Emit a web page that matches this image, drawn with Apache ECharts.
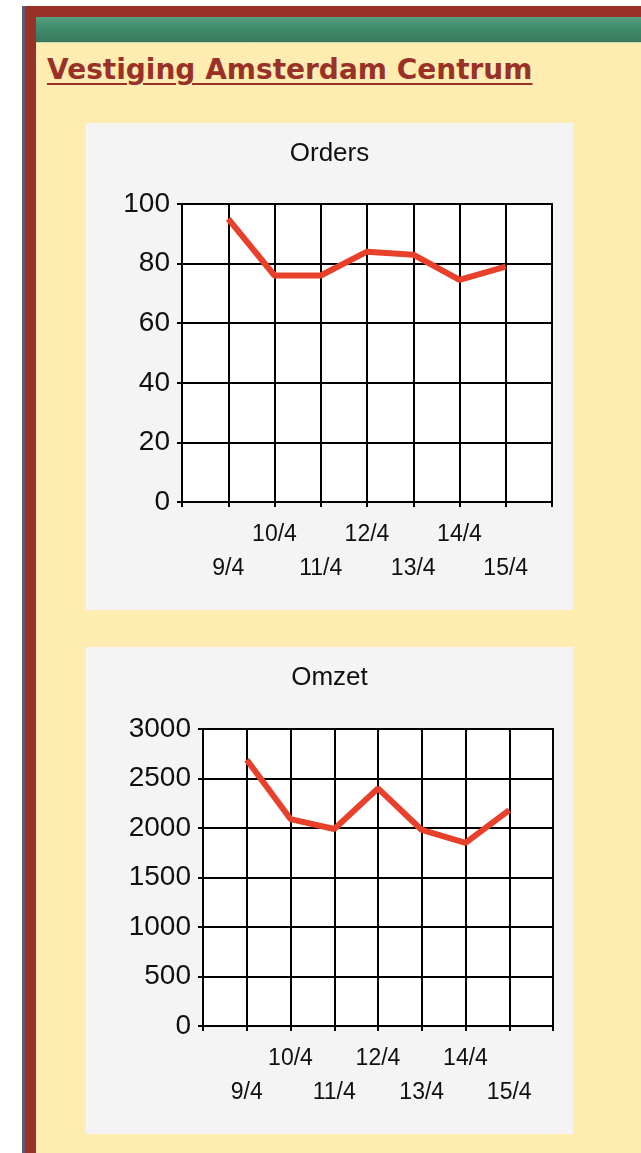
<!DOCTYPE html>
<html>
<head>
<meta charset="utf-8">
<script src="https://cdn.jsdelivr.net/npm/echarts@6/dist/echarts.min.js"></script>
<style>
  body { margin: 0; background: #fff; width: 641px; height: 1153px; overflow: hidden; position: relative; }
  .edge { position: absolute; left: 22px; top: 6px; width: 3px; bottom: 0; background: #5f5a78; }
  .frame { position: absolute; left: 25px; top: 6px; right: 0; bottom: 0; background: #983229; }
  .head { position: absolute; left: 36px; top: 17px; right: 0; height: 25px;
          background: linear-gradient(#52a080, #3f8a6a 50%, #3a785c); }
  .content { position: absolute; left: 36px; top: 42px; right: 0; bottom: 0; background: #feecb0;
             border-top: 1px solid #c9d8a8; }
  h1 { position: absolute; left: 47px; top: 56px; margin: 0; font: bold 28px/28px "DejaVu Sans", sans-serif;
       color: #9a3128; text-decoration: underline; text-decoration-thickness: 2px; text-underline-offset: 4px;
       white-space: nowrap; }
  .chart { position: absolute; left: 86px; width: 487px; height: 487px; }
</style>
</head>
<body>
<div class="edge"></div>
<div class="frame"></div>
<div class="head"></div>
<div class="content"></div>
<h1>Vestiging Amsterdam Centrum</h1>
<div id="orders" class="chart" style="top:123px"></div>
<div id="omzet" class="chart" style="top:647px"></div>
<script>
// dagen
const dates = ['9/4', '10/4', '11/4', '12/4', '13/4', '14/4', '15/4']
// aantal orders per dag
const orders = [95, 76, 76, 84, 83, 74.5, 79]
// omzet per dag
const omzet = [2690, 2090, 1990, 2400, 1980, 1850, 2180]
const ordersTicks = { max: 100, step: 20 }
const omzetTicks = { max: 3000, step: 500 }

const black = '#000'
const textColor = '#101010'

/**
 * lijngrafiek
 * @param {HTMLDivElement} el container
 */
const initLine = (el, title, values, ticks, gridLeft, gridTop, gridWidth, gridHeight) => {
  // lege categorie aan begin en eind, zoals het origineel
  const cats = [''].concat(dates, [''])
  const data = [null].concat(values, [null])
  let chart = echarts.init(el)
  chart.setOption({
    backgroundColor: '#f4f4f4',
    animation: false,
    title: {
      text: title,
      left: 'center',
      top: 13,
      textStyle: { fontFamily: 'Liberation Sans, Arial', fontSize: 26, fontWeight: 'normal', color: textColor }
    },
    grid: {
      left: gridLeft, top: gridTop, width: gridWidth, height: gridHeight,
      show: true, backgroundColor: '#fff', borderColor: black, borderWidth: 2
    },
    xAxis: {
      type: 'category',
      boundaryGap: false,
      data: cats,
      axisLine: { lineStyle: { color: black, width: 2 } },
      axisTick: { show: true, length: 5, interval: 0, lineStyle: { color: black, width: 2 } },
      splitLine: { show: true, interval: 0, lineStyle: { color: black, width: 2 } },
      axisLabel: {
        interval: 0,
        margin: 16,
        fontFamily: 'Liberation Sans, Arial',
        fontSize: 23,
        lineHeight: 34,
        color: textColor,
        // oneven labels op de tweede regel
        formatter: (v, i) => (i % 2 === 1 ? '\n' + v : v)
      }
    },
    yAxis: {
      type: 'value',
      min: 0,
      max: ticks.max,
      interval: ticks.step,
      axisLine: { show: true, lineStyle: { color: black, width: 2 } },
      axisTick: { show: true, length: 5, lineStyle: { color: black, width: 2 } },
      splitLine: { show: true, lineStyle: { color: black, width: 2 } },
      axisLabel: {
        margin: 12,
        fontFamily: 'Liberation Sans, Arial',
        fontSize: 28,
        color: textColor,
        formatter: v => String(v)
      }
    },
    series: [
      {
        type: 'line',
        data: data,
        symbol: 'none',
        lineStyle: { color: '#e8402a', width: 6 }
      }
    ]
  })
  return chart
}

initLine(document.getElementById('orders'), 'Orders', orders, ordersTicks, 96, 81, 370, 298)
initLine(document.getElementById('omzet'), 'Omzet', omzet, omzetTicks, 117, 82, 350, 297)
</script>
</body>
</html>
